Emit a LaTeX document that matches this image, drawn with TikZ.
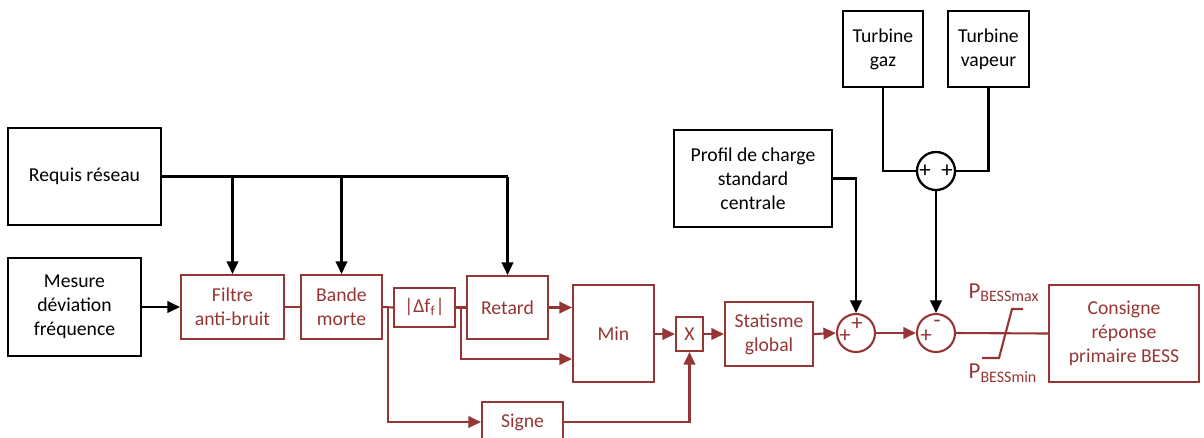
\documentclass[tikz,border=0pt]{standalone}
\usepackage{fontspec}
\setmainfont{Carlito}
\usetikzlibrary{arrows.meta,calc}
\definecolor{dred}{RGB}{150,54,52}
\begin{document}
\begin{tikzpicture}[x=0.02cm,y=-0.02cm,
  font=\fontsize{11.2}{13.6}\selectfont,
  bbox/.style={draw=black,line width=1.3pt,align=center,inner sep=0pt,text=black},
  rbox/.style={draw=dred,line width=1.2pt,align=center,inner sep=0pt,text=dred},
  rsum/.style={circle,draw=dred,line width=1.2pt,minimum size=0.76cm,inner sep=0pt},
  bsum/.style={circle,draw=black,line width=1.3pt,minimum size=0.76cm,inner sep=0pt},
  rtxt/.style={text=dred,inner sep=0pt},
  btxt/.style={text=black,inner sep=0pt},
  sgn/.style={font=\fontsize{13}{13}\selectfont},
  arr/.style={-{Triangle[length=0.25cm,width=0.23cm]}},
  bl/.style={draw=black,line width=1.3pt},
  rl/.style={draw=dred,line width=1.2pt}]
\clip (0,0) rectangle (1204,437);
% black boxes
\node[bbox,minimum width=3.06cm,minimum height=1.94cm] (req) at (84.5,176.5) {Requis réseau};
\node[bbox,minimum width=2.66cm,minimum height=1.96cm] (mes) at (74.5,307) {Mesure\\déviation\\fréquence};
\node[bbox,minimum width=3.16cm,minimum height=1.94cm] (pro) at (753,178.5) {Profil de charge\\standard\\centrale};
\node[bbox,minimum width=1.6cm,minimum height=1.52cm] (tg) at (883,49) {Turbine\\gaz};
\node[bbox,minimum width=1.62cm,minimum height=1.52cm] (tv) at (988.5,49) {Turbine\\vapeur};
% red boxes
\node[rbox,minimum width=2.06cm,minimum height=1.28cm] (fil) at (232.5,307) {Filtre\\anti-bruit};
\node[rbox,minimum width=1.62cm,minimum height=1.28cm] (ban) at (341.5,307) {Bande\\morte};
\node[rbox,minimum width=1.22cm,minimum height=0.78cm] (abs) at (424.5,307.5) {|Δf\textsubscript{f}|};
\node[rbox,minimum width=1.62cm,minimum height=1.26cm] (ret) at (507.5,307.5) {Retard};
\node[rbox,minimum width=1.62cm,minimum height=1.94cm] (min) at (613.5,333.5) {Min};
\node[rbox,minimum width=0.54cm,minimum height=0.68cm] (mul) at (689.5,334) {X};
\node[rbox,minimum width=1.62cm,minimum height=0.8cm] (sig) at (522.5,422) {Signe};
\node[rbox,minimum width=1.76cm,minimum height=1.28cm] (sta) at (769,334) {Statisme\\global};
\node[rbox,minimum width=3.0cm,minimum height=1.94cm] (con) at (1124,333.5) {Consigne\\réponse\\primaire BESS};
% summing junctions
\node[rsum] (s1) at (856,333) {};
\node[rsum] (s2) at (936,333) {};
\node[bsum] (s3) at (936,171) {};
\node[rtxt,sgn] (s1a) at (845,336) {+};
\node[rtxt,sgn] (s1b) at (857,324) {+};
\node[rtxt,sgn] (s2a) at (926,336) {+};
\node[rtxt,sgn] (s2b) at (937,324) {-};
\node[btxt,sgn] (s3a) at (925,171) {+};
\node[btxt,sgn] (s3b) at (947,171) {+};
% saturation labels
\node[rtxt,font=\fontsize{13}{13}\selectfont] (pmax) at (1004,293) {P\textsubscript{BESSmax}};
\node[rtxt,font=\fontsize{13}{13}\selectfont] (pmin) at (1003,373) {P\textsubscript{BESSmin}};
% black connectors
\draw[bl,arr] (mes.east) -- (fil.west);
\draw[bl] (req.east) -- (ret.north |- req.east);
\draw[bl,arr] (fil.north |- req.east) -- (fil.north);
\draw[bl,arr] (ban.north |- req.east) -- (ban.north);
\draw[bl,arr] (ret.north |- req.east) -- (ret.north);
\draw[bl,arr] (pro.east) -| (s1.north);
\draw[bl] (tg.south) |- (s3.west);
\draw[bl] (tv.south) |- (s3.east);
\draw[bl,arr] (s3.south) -- (s2.north);
% red connectors
\draw[rl] (fil.east) -- (ban.west);
\draw[rl] (ban.east) -- (abs.west);
\draw[rl] (abs.east) -- (ret.west);
\coordinate (j1) at (388,307);
\coordinate (j2) at (461,307.5);
\draw[rl,arr] (j1) |- (sig.west);
\draw[rl,arr] (j2) |- (min.west |- 0,359);
\draw[rl,arr] (ret.east) -- (min.west |- ret.east);
\draw[rl,arr] (min.east |- mul.west) -- (mul.west);
\draw[rl,arr] (sig.east) -| (mul.south);
\draw[rl,arr] (mul.east) -- (sta.west);
\draw[rl,arr] (sta.east) -- (s1.west);
\draw[rl,arr] (s1.east) -- (s2.west);
\draw[rl] (s2.east) -- (con.west);
\draw[rl] (982,358) -- (999,358) -- (1012,309) -- (1023,309);
\end{tikzpicture}
\end{document}
